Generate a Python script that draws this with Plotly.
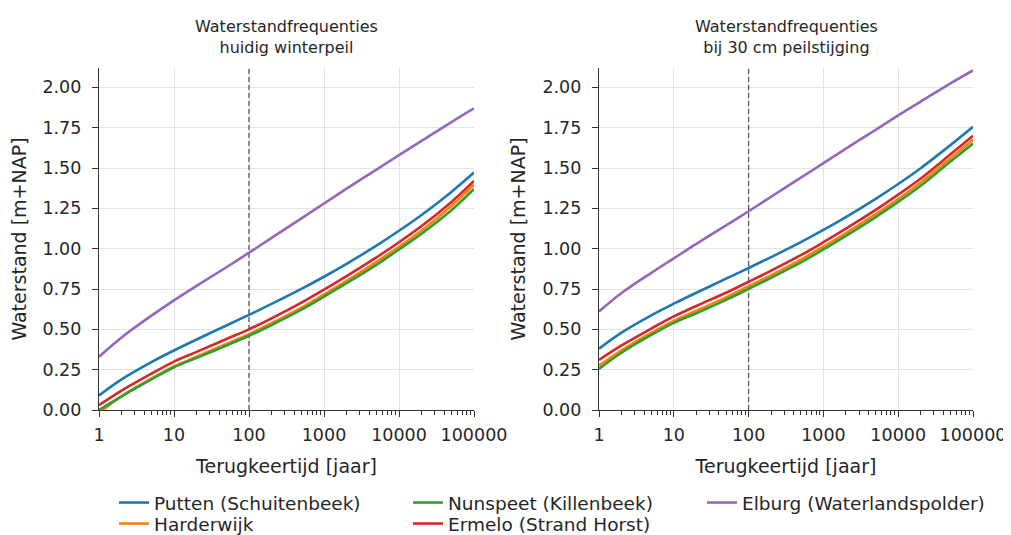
import plotly.graph_objects as go

T = [1, 2, 5, 10, 20, 50, 100, 200, 500, 1000, 2000, 5000, 10000, 20000, 50000, 100000]

names = ["Putten (Schuitenbeek)", "Harderwijk", "Nunspeet (Killenbeek)",
         "Ermelo (Strand Horst)", "Elburg (Waterlandspolder)"]
colors = ["#1f77b4", "#ff7f0e", "#2ca02c", "#d62728", "#9467bd"]

# Huidig winterpeil
left_putten = [0.09, 0.19, 0.297, 0.369, 0.437, 0.524, 0.59, 0.658, 0.751, 0.826, 0.906, 1.019, 1.111, 1.209, 1.352, 1.472]
left_harderwijk = [-0.02, 0.085, 0.195, 0.27, 0.33, 0.41, 0.47, 0.538, 0.635, 0.716, 0.80, 0.918, 1.012, 1.113, 1.265, 1.397]
left_nunspeet = [0.0, 0.085, 0.19, 0.265, 0.323, 0.40, 0.46, 0.527, 0.622, 0.703, 0.786, 0.90, 0.995, 1.093, 1.238, 1.37]
left_ermelo = [0.03, 0.12, 0.225, 0.30, 0.36, 0.44, 0.50, 0.568, 0.665, 0.746, 0.83, 0.946, 1.04, 1.14, 1.29, 1.42]
left_elburg = [0.33, 0.45, 0.585, 0.68, 0.77, 0.885, 0.975, 1.067, 1.188, 1.28, 1.372, 1.49, 1.58, 1.668, 1.785, 1.87]

# Bij 30 cm peilstijging
right_putten = [0.38, 0.48, 0.587, 0.659, 0.727, 0.814, 0.88, 0.948, 1.041, 1.116, 1.196, 1.309, 1.401, 1.499, 1.642, 1.755]
right_harderwijk = [0.275, 0.37, 0.478, 0.552, 0.615, 0.698, 0.767, 0.836, 0.932, 1.013, 1.097, 1.214, 1.308, 1.41, 1.56, 1.675]
right_nunspeet = [0.255, 0.355, 0.465, 0.54, 0.60, 0.683, 0.75, 0.82, 0.915, 0.996, 1.08, 1.196, 1.29, 1.39, 1.54, 1.652]
right_ermelo = [0.31, 0.40, 0.505, 0.58, 0.645, 0.727, 0.795, 0.864, 0.96, 1.04, 1.124, 1.24, 1.335, 1.435, 1.585, 1.70]
right_elburg = [0.61, 0.725, 0.85, 0.94, 1.03, 1.145, 1.232, 1.322, 1.44, 1.53, 1.62, 1.737, 1.826, 1.912, 2.025, 2.105]

left = [left_putten, left_harderwijk, left_nunspeet, left_ermelo, left_elburg]
right = [right_putten, right_harderwijk, right_nunspeet, right_ermelo, right_elburg]

titles = ["Waterstandfrequenties<br>huidig winterpeil",
          "Waterstandfrequenties<br>bij 30 cm peilstijging"]
xticks = [1, 10, 100, 1000, 10000, 100000]
xticklabels = ["1", "10", "100", "1000", "10000", "100000"]
xminor = [m * d for d in [1, 10, 100, 1000, 10000] for m in range(2, 10)]
yticks = [0, 0.25, 0.5, 0.75, 1.0, 1.25, 1.5, 1.75, 2.0]
ref_T = 100
ymax = 2.12

FONT = "DejaVu Sans"
TXT = "#262626"
OFF = 8                 # page body margin
W, H = 1011 - OFF, 535 - OFF


def fx(px):
    return (px - OFF) / W


def fy(py):
    return 1 - (py - OFF) / H


fig = go.Figure()

# legend placement: (legend id, column text x, row centre y) in page pixels
leg_slots = [("legend", 154, 503), ("legend2", 154, 524), ("legend3", 448, 503),
             ("legend4", 448, 524), ("legend5", 742, 503)]

for p, data in enumerate([left, right]):
    xa = "x" if p == 0 else "x2"
    ya = "y" if p == 0 else "y2"
    fig.add_trace(go.Scatter(x=[ref_T, ref_T], y=[0, ymax], mode="lines",
                             line=dict(color="#555555", width=1.3, dash="5px,3px"),
                             showlegend=False, hoverinfo="skip", xaxis=xa, yaxis=ya))
    for i, (nm, c, vals) in enumerate(zip(names, colors, data)):
        fig.add_trace(go.Scatter(x=T, y=vals, mode="lines", name=nm,
                                 line=dict(color=c, width=2.6, shape="spline", smoothing=1.0),
                                 showlegend=(p == 0), legend=leg_slots[i][0],
                                 xaxis=xa, yaxis=ya))

dom_l = [fx(99), fx(474)]
dom_r = [fx(599), fx(973)]
ydom = [fy(410), fy(68)]

axis_common = dict(showline=True, linecolor="#333333", linewidth=1.3,
                   ticks="outside", ticklen=6, tickcolor="#333333", tickwidth=1.2,
                   showgrid=True, gridcolor="#e3e3e3", gridwidth=1,
                   zeroline=False, tickfont=dict(family=FONT, size=17.5, color=TXT),
                   mirror=False, automargin=False)

xcommon = dict(axis_common, type="log", range=[0, 5], tickvals=xticks, ticktext=xticklabels,
               ticklabelstandoff=3,
               minor=dict(tickmode="array", tickvals=xminor, ticks="outside", ticklen=3.5,
                          tickcolor="#333333", tickwidth=1, showgrid=False),
               title=dict(text="Terugkeertijd [jaar]", font=dict(family=FONT, size=19, color=TXT),
                          standoff=15))
ycommon = dict(axis_common, range=[0, ymax], tickvals=yticks, tickformat=".2f",
               ticklabelstandoff=7,
               title=dict(text="Waterstand [m+NAP]", font=dict(family=FONT, size=19, color=TXT),
                          standoff=11))

fig.update_layout(
    width=W, height=H,
    margin=dict(l=0, r=0, t=0, b=0, autoexpand=False),
    paper_bgcolor="white", plot_bgcolor="white",
    font=dict(family=FONT, size=15, color=TXT),
    xaxis=dict(xcommon, domain=dom_l, anchor="y"),
    yaxis=dict(ycommon, domain=ydom, anchor="x"),
    xaxis2=dict(xcommon, domain=dom_r, anchor="y2"),
    yaxis2=dict(ycommon, domain=ydom, anchor="x2"),
    showlegend=True,
)

leg_common = dict(orientation="v", yanchor="middle", xanchor="left",
                  font=dict(family=FONT, size=18.5, color=TXT),
                  bgcolor="rgba(0,0,0,0)", tracegroupgap=0, itemwidth=30)
fig.update_layout(**{lid: dict(leg_common, x=fx(tx - 40), y=fy(ty))
                     for lid, tx, ty in leg_slots})

for p, t in enumerate(titles):
    dom = dom_l if p == 0 else dom_r
    fig.add_annotation(text=t, xref="paper", yref="paper",
                       x=(dom[0] + dom[1]) / 2, y=fy(37), xanchor="center", yanchor="middle",
                       showarrow=False, font=dict(family=FONT, size=16, color=TXT))

fig.write_html("out.html")
